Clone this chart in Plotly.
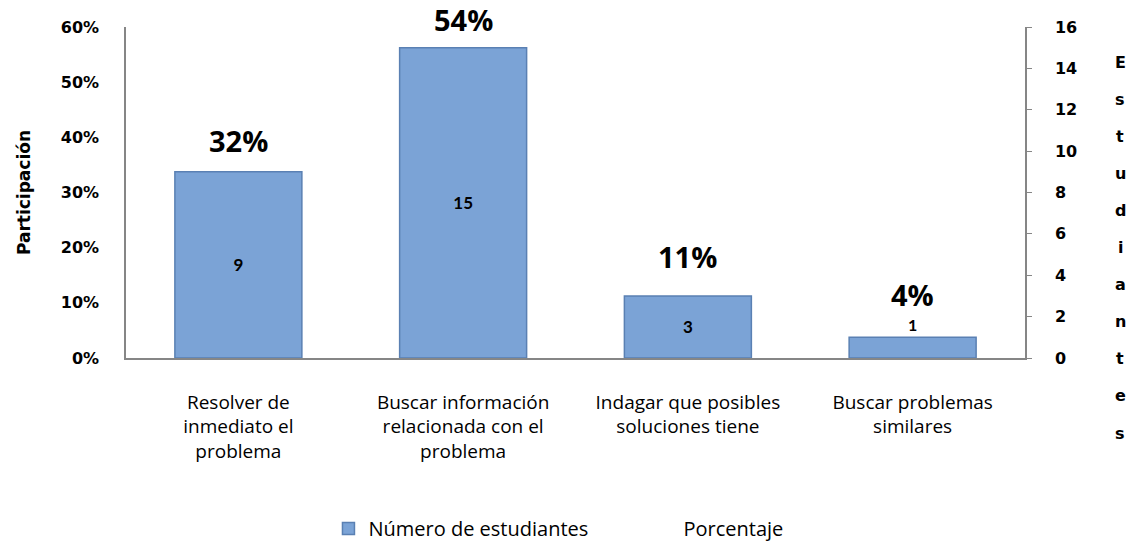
import plotly.graph_objects as go

categories = [
    "Resolver de<br>inmediato el<br>problema",
    "Buscar información<br>relacionada con el<br>problema",
    "Indagar que posibles<br>soluciones tiene",
    "Buscar problemas<br>similares",
]
estudiantes = [9, 15, 3, 1]
porcentaje = [0.32, 0.54, 0.11, 0.04]
pct_labels = ["32%", "54%", "11%", "4%"]
right_title = "Estudiantes"

W, H = 1129, 547
L, R, T, B = 126, 104, 27, 189

fig = go.Figure()

fig.add_trace(go.Bar(
    x=categories, y=estudiantes, yaxis="y2", name="Número de estudiantes",
    marker=dict(color="#7BA3D6", line=dict(color="#5A80B3", width=1.5)),
    text=[str(v) for v in estudiantes],
    textposition=["inside", "inside", "inside", "outside"], textangle=0,
    insidetextanchor="middle", constraintext="none",
    textfont=dict(family="Lato", size=17, color="#000000", weight="bold"),
    outsidetextfont=dict(family="Lato", size=16, color="#000000", weight="bold"),
    cliponaxis=False,
))

fig.add_trace(go.Scatter(
    x=categories, y=porcentaje, yaxis="y", name="Porcentaje", mode="markers",
    marker=dict(color="rgba(0,0,0,0)", size=8), cliponaxis=False,
))

for c, p, lab in zip(categories, porcentaje, pct_labels):
    fig.add_annotation(x=c, y=p, xref="x", yref="y", text=lab, showarrow=False,
                       yshift=41, font=dict(family="Open Sans", size=29, color="#000000", weight="bold"))

plot_h = H - T - B
for i, ch in enumerate(right_title):
    ypx = 62 + i * 37.1
    fig.add_annotation(x=(1120 - L) / (W - L - R), y=(H - B - ypx) / plot_h,
                       xref="paper", yref="paper", text=ch, showarrow=False,
                       xanchor="center", yanchor="middle",
                       font=dict(family="DejaVu Sans", size=16, color="#000000", weight="bold"))

fig.update_layout(
    width=W, height=H, margin=dict(l=L, r=R, t=T, b=B, autoexpand=False),
    paper_bgcolor="white", plot_bgcolor="white",
    bargap=0.435, showlegend=True,
    font=dict(family="Open Sans", color="#000000"),
    legend=dict(orientation="h", x=0.5756, xanchor="center", y=-0.515, yanchor="middle",
                font=dict(family="Open Sans", size=20, color="#000000"), entrywidth=270),
    xaxis=dict(showline=True, linecolor="#868686", linewidth=1.5, ticks="",
               tickfont=dict(family="Open Sans", size=19, color="#000000"),
               ticklabelstandoff=26, showgrid=False, automargin=False),
    yaxis=dict(range=[0, 0.6], dtick=0.1, tickformat=".0%", showline=True,
               linecolor="#868686", linewidth=1.5, ticks="", showgrid=False, zeroline=False,
               tickfont=dict(family="DejaVu Sans", size=16, color="#000000", weight="bold"),
               ticklabelstandoff=22, automargin=False,
               title=dict(text="Participación", standoff=26,
                          font=dict(family="DejaVu Sans", size=17, color="#000000", weight="bold"))),
    yaxis2=dict(range=[0, 16], dtick=2, overlaying="y", side="right", showline=True,
                linecolor="#868686", linewidth=1.5, ticks="outside", ticklen=5,
                tickcolor="#868686", showgrid=False, zeroline=False,
                tickfont=dict(family="DejaVu Sans", size=16, color="#000000", weight="bold"),
                ticklabelstandoff=20, automargin=False),
)

fig.write_html("out.html", config={"displayModeBar": False},
               post_script="document.body.style.margin='0';document.body.style.padding='0';")
